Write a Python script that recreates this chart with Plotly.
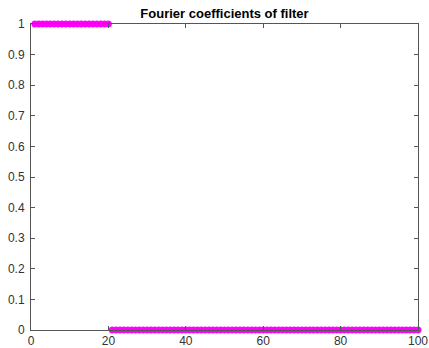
import plotly.graph_objects as go

# Fourier coefficient indices and the ideal low-pass mask values
n_pass = 20
n_total = 100
indices = list(range(1, n_total + 1))
coeffs = [1] * n_pass + [0] * (n_total - n_pass)

x_ticks = [0, 20, 40, 60, 80, 100]
y_ticks = [0, 0.1, 0.2, 0.3, 0.4, 0.5, 0.6, 0.7, 0.8, 0.9, 1]
y_tick_text = ["0", "0.1", "0.2", "0.3", "0.4", "0.5", "0.6", "0.7", "0.8", "0.9", "1"]

fig = go.Figure()
fig.add_trace(go.Scatter(
    x=indices, y=coeffs, mode="markers",
    marker=dict(symbol="circle", size=6.5, color="#ff00ff",
                line=dict(color="#ff00ff", width=0.5)),
    cliponaxis=False, showlegend=False,
))

axis_common = dict(
    showgrid=False, zeroline=False, showline=True, mirror="ticks",
    linecolor="#555555", linewidth=1, ticks="inside", ticklen=4,
    tickcolor="#555555", automargin=False,
    tickfont=dict(family="Liberation Sans, Arial", size=12, color="#333333"),
)

fig.update_layout(
    width=429, height=348,
    margin=dict(l=31, r=11, t=24, b=18),
    paper_bgcolor="white", plot_bgcolor="white",
    title=dict(text="<b>Fourier coefficients of filter</b>", x=0.5, xanchor="center",
               y=1 - 13 / 348, yanchor="middle",
               xref="paper",
               font=dict(family="Liberation Sans, Arial", size=13, color="black")),
    xaxis=dict(range=[0, 100], tickvals=x_ticks, ticklabelstandoff=0, **axis_common),
    yaxis=dict(range=[0, 1], tickvals=y_ticks, ticktext=y_tick_text, ticklabelstandoff=3, **axis_common),
)

fig.write_html("out.html")
